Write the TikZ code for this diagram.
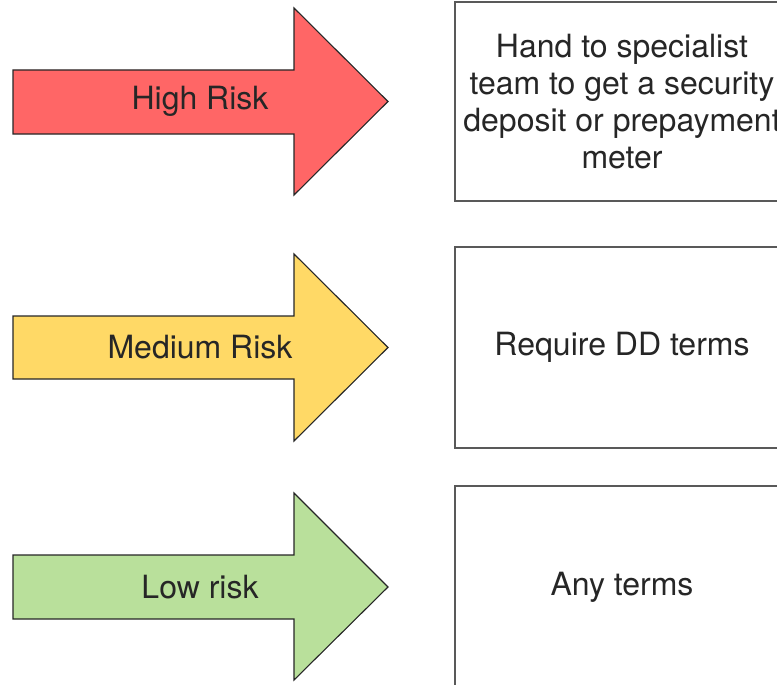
\documentclass[tikz,border=0pt]{standalone}
\usepackage{fontspec}
\setmainfont{TeX Gyre Heros}
\definecolor{hired}{HTML}{FF6666}
\definecolor{medyel}{HTML}{FFD966}
\definecolor{lowgrn}{HTML}{B9E09B}
\definecolor{boxline}{HTML}{595959}
\begin{document}
\begin{tikzpicture}[x=1pt,y=-1pt,
  riskarrow/.style={draw=black!85,line width=1.1pt,line join=miter},
  outbox/.style={draw=boxline,line width=1.6pt,fill=white},
  lbl/.style={font=\fontsize{32}{37}\selectfont,text=black!85,inner sep=0pt,align=center}]
\useasboundingbox (0,0) rectangle (777,685);
\clip (0,0) rectangle (777,685);
% arrows
\draw[riskarrow,fill=hired] (13,70) -- (294,70) -- (294,8) -- (388,101.5) -- (294,195) -- (294,134) -- (13,134) -- cycle;
\draw[riskarrow,fill=medyel] (13,316) -- (294,316) -- (294,254) -- (388,347.5) -- (294,441) -- (294,379) -- (13,379) -- cycle;
\draw[riskarrow,fill=lowgrn] (13,555) -- (294,555) -- (294,493) -- (388,587) -- (294,680) -- (294,619) -- (13,619) -- cycle;
\node[lbl] (high) at (200,101.5) {High Risk};
\node[lbl] (med) at (200,347.5) {Medium Risk};
\node[lbl] (low) at (200,587) {Low risk};
% boxes
\draw[outbox] (455,2) rectangle (790,201);
\draw[outbox] (455,247) rectangle (790,448);
\draw[outbox] (455,486) rectangle (790,700);
\node[lbl] (b1) at (622,101.5) {Hand to specialist\\team to get a security\\deposit or prepayment\\meter};
\node[lbl] (b2) at (622,347.5) {Require DD terms};
\node[lbl] (b3) at (622,587) {Any terms};
\end{tikzpicture}
\end{document}
